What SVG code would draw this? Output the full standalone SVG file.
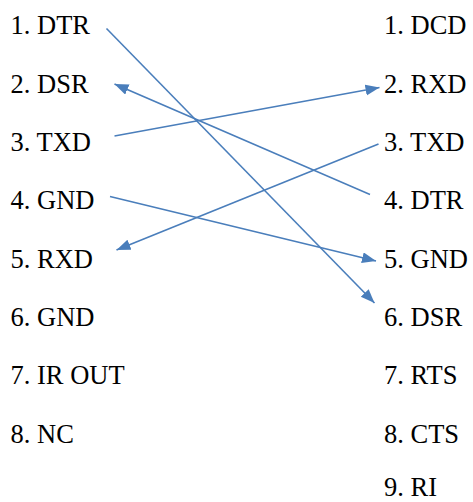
<svg xmlns="http://www.w3.org/2000/svg" width="473" height="502" viewBox="0 0 473 502">
<style>
text{font-family:"Liberation Serif","Times New Roman",serif;font-size:26.5px;fill:#000}
.c{stroke:#4a7ebb;stroke-width:1.6;fill:none;marker-end:url(#ah)}
</style>
<defs>
<marker id="ah" markerUnits="userSpaceOnUse" markerWidth="15" markerHeight="12" refX="14" refY="5.5" orient="auto">
<path d="M0,0 L14,5.5 L0,11 z" fill="#4a7ebb"/>
</marker>
</defs>
<rect width="473" height="502" fill="#fff"/>
<g id="left">
<g id="L1"><text x="10.5" y="34.3">1. DTR</text></g>
<g id="L2"><text x="10.5" y="92.7">2. DSR</text></g>
<g id="L3"><text x="10.5" y="151">3. TXD</text></g>
<g id="L4"><text x="10.5" y="209.4">4. GND</text></g>
<g id="L5"><text x="10.5" y="267.7">5. RXD</text></g>
<g id="L6"><text x="10.5" y="326.1">6. GND</text></g>
<g id="L7"><text x="10.5" y="384.4">7. IR OUT</text></g>
<g id="L8"><text x="10.5" y="442.8">8. NC</text></g>
</g>
<g id="right">
<g id="R1"><text x="384" y="34.3">1. DCD</text></g>
<g id="R2"><text x="384" y="92.7">2. RXD</text></g>
<g id="R3"><text x="384" y="151">3. TXD</text></g>
<g id="R4"><text x="384" y="209.4">4. DTR</text></g>
<g id="R5"><text x="384" y="267.7">5. GND</text></g>
<g id="R6"><text x="384" y="326.1">6. DSR</text></g>
<g id="R7"><text x="384" y="384.4">7. RTS</text></g>
<g id="R8"><text x="384" y="442.8">8. CTS</text></g>
<g id="R9"><text x="384" y="495.5">9. RI</text></g>
</g>
<g id="connectors">
<line class="c" x1="106.5" y1="28.5" x2="374.5" y2="303"/>
<line class="c" x1="370" y1="194.5" x2="114.5" y2="84"/>
<line class="c" x1="114.5" y1="136" x2="379.5" y2="87.5"/>
<line class="c" x1="110" y1="196.5" x2="376" y2="261"/>
<line class="c" x1="378.5" y1="144" x2="116.5" y2="250"/>
</g>
</svg>
